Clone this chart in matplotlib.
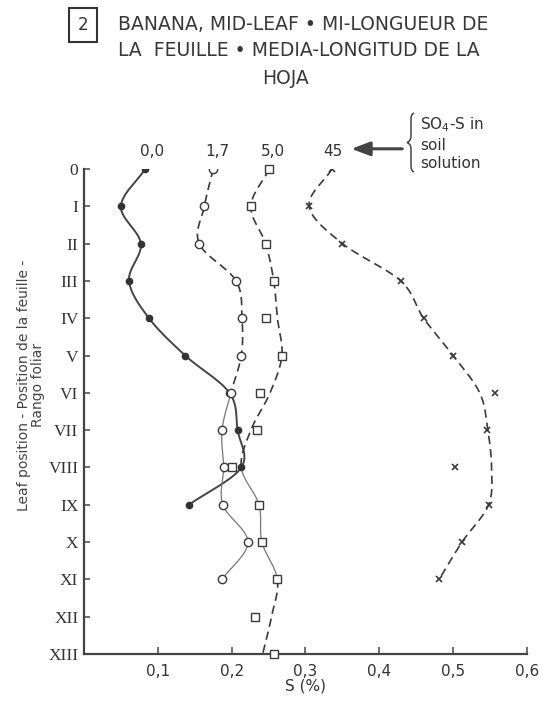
import numpy as np
import matplotlib
matplotlib.use("Agg")
import matplotlib.pyplot as plt
from matplotlib.path import Path
from matplotlib.patches import PathPatch

# leaf positions 0..XIII (top to bottom)
leaf_labels = ["0", "I", "II", "III", "IV", "V", "VI", "VII", "VIII",
               "IX", "X", "XI", "XII", "XIII"]
s_ticks = [0.1, 0.2, 0.3, 0.4, 0.5, 0.6]
s_tick_labels = ["0,1", "0,2", "0,3", "0,4", "0,5", "0,6"]

# SO4-S in soil solution
conc_labels = ["0,0", "1,7", "5,0", "45"]
conc_label_x = [0.092, 0.180, 0.256, 0.337]

# S (%) per leaf position
s00 = [0.083, 0.050, 0.077, 0.061, 0.088, 0.137, 0.197, 0.208, 0.213, 0.142]
s17 = [0.175, 0.163, 0.156, 0.206, 0.214, 0.213, 0.199, 0.187, 0.189,
       0.188, 0.222, 0.187]
s50 = [0.251, 0.226, 0.246, 0.257, 0.247, 0.268, 0.238, 0.234, 0.200,
       0.237, 0.241, 0.262, 0.231, 0.258]
s45 = [0.336, 0.305, 0.350, 0.429, 0.460, 0.500, 0.557, 0.546, 0.502,
       0.548, 0.512, 0.481]

# hand drawn trend curves (where they leave the points)
s50_fit = [0.251, 0.226, 0.246, 0.257, 0.262, 0.268, 0.252, 0.226, 0.213,
           0.237, 0.241, 0.262, 0.254, 0.242]
s45_fit = [0.336, 0.305, 0.350, 0.429, 0.460, 0.500, 0.536, 0.547, 0.552,
           0.548, 0.512, 0.481]

INK = "#3a3a3a"


def smooth(xs, ys, n=16):
    # catmull-rom through the nodes, returns x, y and node parameter t
    p = np.column_stack([xs, ys]).astype(float)
    p = np.vstack([2 * p[0] - p[1], p, 2 * p[-1] - p[-2]])
    out, tt = [], []
    for i in range(1, len(p) - 2):
        p0, p1, p2, p3 = p[i - 1], p[i], p[i + 1], p[i + 2]
        for t in np.linspace(0, 1, n, endpoint=False):
            t2, t3 = t * t, t * t * t
            pt = 0.5 * ((2 * p1) + (-p0 + p2) * t + (2 * p0 - 5 * p1 + 4 * p2 - p3) * t2
                        + (-p0 + 3 * p1 - 3 * p2 + p3) * t3)
            out.append(pt)
            tt.append(i - 1 + t)
    out.append(p[-2])
    tt.append(len(xs) - 1)
    out = np.array(out)
    return out[:, 0], out[:, 1], np.array(tt)


def draw_curve(ax, xs, pieces):
    ys = np.arange(len(xs))
    cx, cy, ct = smooth(xs, ys)
    for a, b, kw in pieces:
        m = (ct >= a - 1e-9) & (ct <= b + 1e-9)
        ax.plot(cx[m], cy[m], **kw)


fig = plt.figure(figsize=(5.43, 7.04), dpi=100)
ax = fig.add_axes([0.1547, 0.071, 0.8158, 0.689])

dash = dict(color=INK, lw=1.2, ls=(0, (5, 3)))
thin = dict(color="#777777", lw=0.9, ls="-")
solid = dict(color="#444444", lw=1.4, ls="-")

draw_curve(ax, s00, [(0, len(s00) - 1, solid)])
draw_curve(ax, s17, [(0, 6, dash), (6, len(s17) - 1, thin)])
draw_curve(ax, s50_fit, [(0, 8, dash), (8, 11, thin), (11, 13, dash)])
draw_curve(ax, s45_fit, [(0, len(s45_fit) - 1, dash)])

ax.plot(s00, range(len(s00)), ls="none", marker="o", ms=4.5, color="#333333", zorder=4)
ax.plot(s17, range(len(s17)), ls="none", marker="o", ms=6, mfc="white",
        mec=INK, mew=1.0, zorder=4)
ax.plot(s50, range(len(s50)), ls="none", marker="s", ms=6, mfc="white",
        mec=INK, mew=1.0, zorder=4, clip_on=False)
ax.plot(s45, range(len(s45)), ls="none", marker="x", ms=5, color=INK, mew=1.2, zorder=4)

ax.set_xlim(0, 0.6)
ax.set_ylim(13, 0)
for side in ["top", "right"]:
    ax.spines[side].set_visible(False)
for side in ["left", "bottom"]:
    ax.spines[side].set_linewidth(1.6)
    ax.spines[side].set_color("#444444")

ax.set_yticks(range(len(leaf_labels)))
ax.set_yticklabels(leaf_labels, family="Liberation Serif", fontsize=12.5, color="#333333")
ax.set_xticks(s_ticks)
ax.set_xticklabels(s_tick_labels, fontsize=11, color="#333333")
ax.tick_params(axis="y", direction="in", length=4, width=1.2, pad=4, colors="#555555",
               labelcolor="#333333")
ax.tick_params(axis="x", direction="in", length=5, width=1.2, pad=7, colors="#555555",
               labelcolor="#333333")
ax.set_xlabel("S (%)", fontsize=11, color="#333333", labelpad=0)

fig.text(0.058, 0.453, "Leaf position - Position de la feuille -\nRango foliar",
         rotation=90, ha="center", va="center", fontsize=10, color="#444444",
         multialignment="center", linespacing=1.0)

# concentration labels on top of each curve
for x, lab in zip(conc_label_x, conc_labels):
    ax.text(x, -0.47, lab, ha="center", va="center", fontsize=11, color="#333333",
            clip_on=False)

ax.annotate("", xy=(0.362, -0.54), xytext=(0.431, -0.54),
            arrowprops=dict(arrowstyle="-|>,head_length=0.8,head_width=0.3", lw=2.2,
                            color="#444444", mutation_scale=14, shrinkA=0, shrinkB=0),
            annotation_clip=False)

# brace, drawn in pixel space
W, H = 543.0, 704.0
brace = [(414, 113), (411, 114), (411, 119), (411, 136), (411, 141), (407, 142.5),
         (411, 144), (411, 149), (411, 166), (411, 171), (414, 172)]
codes = [Path.MOVETO, Path.CURVE3, Path.CURVE3, Path.LINETO, Path.CURVE3, Path.CURVE3,
         Path.CURVE3, Path.CURVE3, Path.LINETO, Path.CURVE3, Path.CURVE3]
verts = [(x / W, 1 - y / H) for x, y in brace]
fig.patches.append(PathPatch(Path(verts, codes), transform=fig.transFigure,
                             fill=False, lw=1.1, ec="#444444"))

fig.text(420 / W, 1 - 125 / H, "SO$_4$-S in", fontsize=11, color="#333333", va="center")
fig.text(420 / W, 1 - 146 / H, "soil", fontsize=11, color="#333333", va="center")
fig.text(420 / W, 1 - 164 / H, "solution", fontsize=11, color="#333333", va="center")

# title block
fig.text(83 / W, 1 - 25 / H, "2", fontsize=12, color="#333333", ha="center", va="center",
         bbox=dict(boxstyle="square,pad=0.5", fc="white", ec="#333333", lw=1.5))
fig.text(118 / W, 1 - 25 / H, "BANANA, MID-LEAF \u2022 MI-LONGUEUR DE", fontsize=13.5,
         color="#383838", va="center")
fig.text(118 / W, 1 - 51 / H, "LA  FEUILLE \u2022 MEDIA-LONGITUD DE LA", fontsize=13.5,
         color="#383838", va="center")
fig.text(285 / W, 1 - 78 / H, "HOJA", fontsize=13.5, color="#383838", ha="center",
         va="center")

fig.savefig("out.png", dpi=100, facecolor="white")
